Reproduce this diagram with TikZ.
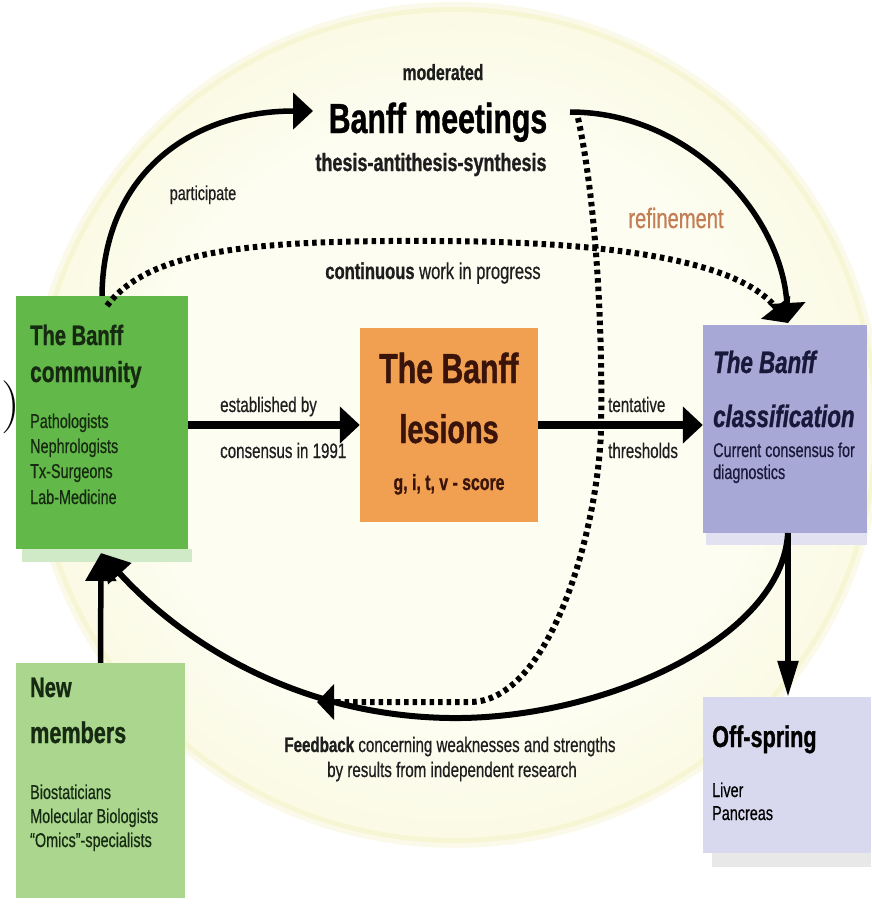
\documentclass[tikz,border=0pt]{standalone}
\usepackage{fontspec}
\setmainfont{Liberation Sans}[FakeStretch=0.72,
  UprightFeatures={FakeBold=0.5},
  BoldFeatures={FakeBold=0.9},
  BoldItalicFeatures={FakeBold=0.9}]
\usetikzlibrary{arrows.meta}

% palette
\definecolor{bgCenter}{RGB}{253,253,242}
\definecolor{bgEdge}{RGB}{244,242,194}
\definecolor{commFill}{RGB}{98,184,72}
\definecolor{newFill}{RGB}{170,214,142}
\definecolor{lesFill}{RGB}{241,160,82}
\definecolor{clasFill}{RGB}{168,168,214}
\definecolor{offsFill}{RGB}{216,216,238}
\definecolor{commText}{RGB}{22,42,18}
\definecolor{lesText}{RGB}{58,20,10}
\definecolor{clasText}{RGB}{24,24,58}
\definecolor{labelText}{RGB}{30,30,30}
\definecolor{refineC}{RGB}{196,126,86}

\newcommand{\fsz}[1]{\fontsize{#1}{#1}\selectfont}

\pgfdeclareradialshading{bgshade}{\pgfpoint{0bp}{0bp}}{%
  color(0bp)=(bgCenter); color(18bp)=(bgCenter);
  color(44bp)=(bgEdge); color(50bp)=(bgEdge)}

\tikzset{
  box/.style={rectangle, inner sep=0pt, draw=none},
  txt/.style={inner sep=0pt, anchor=base west},
  ctxt/.style={inner sep=0pt, anchor=base},
  curve/.style={line width=5.5pt},
  fbcurve/.style={line width=6pt},
  thickarrow/.style={line width=8pt},
  dotted line/.style={line width=6pt, dash pattern=on 4.5pt off 4pt},
  headA/.style={-{Triangle[length=20pt,width=36pt]}},
  headB/.style={-{Triangle[length=28pt,width=30pt]}},
  headC/.style={-{Triangle[length=17pt,width=35pt]}},
  headD/.style={-{Triangle[length=36pt,width=20pt]}},
}

\begin{document}
\begin{tikzpicture}[x=1pt, y=-1pt]
\useasboundingbox (0,0) rectangle (871,905);

% soft pale-yellow backdrop
\fill[bgEdge!35] (455,425) ellipse [x radius=428, y radius=423];
\fill[bgEdge!70] (455,425) ellipse [x radius=423, y radius=418];
\shade[shading=bgshade] (455,425) ellipse [x radius=418, y radius=413];

% faint shadows under boxes
\fill[commFill!30] (22,549) rectangle (192,562);
\fill[clasFill!35] (706,533) rectangle (867,545);
\fill[gray!18] (712,853) rectangle (871,867);

% boxes
\node[box, fill=commFill, minimum width=172pt, minimum height=253pt] (comm) at (102,422.5) {};
\node[box, fill=newFill, minimum width=169pt, minimum height=235pt] (newm) at (100.5,780.5) {};
\node[box, fill=lesFill, minimum width=178pt, minimum height=194pt] (lesion) at (449,425) {};
\node[box, fill=clasFill, minimum width=164pt, minimum height=208pt] (clas) at (785,429) {};
\node[box, fill=offsFill, minimum width=168pt, minimum height=156pt] (offs) at (787,775) {};

% stray parenthesis at the left edge
\node[txt, font=\fontfamily{lmr}\selectfont\fsz{53}] (paren) at (1,420) {)};

% community box text
\begin{scope}[text=commText]
\node[txt, font=\bfseries\fsz{28}] (commA) at (30,345) {The Banff};
\node[txt, font=\bfseries\fsz{29}] (commB) at (30,382) {community};
\node[txt, font=\fsz{20}] (commC) at (30,428) {Pathologists};
\node[txt, font=\fsz{20}] (commD) at (30,453) {Nephrologists};
\node[txt, font=\fsz{20}] (commE) at (30,478) {Tx-Surgeons};
\node[txt, font=\fsz{20}] (commF) at (30,504) {Lab-Medicine};
\end{scope}

% new members box text
\begin{scope}[text=commText]
\node[txt, font=\bfseries\fsz{28}] (newA) at (30,697) {New};
\node[txt, font=\bfseries\fsz{30}] (newB) at (30,743) {members};
\node[txt, font=\fsz{20}] (newC) at (30,799) {Biostaticians};
\node[txt, font=\fsz{20}] (newD) at (30,823) {Molecular Biologists};
\node[txt, font=\fsz{20}] (newE) at (30,847) {“Omics”-specialists};
\end{scope}

% lesions box text
\begin{scope}[text=lesText]
\node[ctxt, font=\bfseries\fsz{42}] (lesA) at (449,383) {The Banff};
\node[ctxt, font=\bfseries\fsz{40}] (lesB) at (449,443) {lesions};
\node[ctxt, font=\bfseries\fsz{22}] (lesC) at (449,490) {g, i, t, v - score};
\end{scope}

% classification box text
\begin{scope}[text=clasText]
\node[txt, font=\bfseries\itshape\fsz{31}] (clasA) at (713,373) {The Banff};
\node[txt, font=\bfseries\itshape\fsz{31}] (clasB) at (713,427) {classification};
\node[txt, font=\fsz{20}] (clasC) at (713,457) {Current consensus for};
\node[txt, font=\fsz{20}] (clasD) at (713,479) {diagnostics};
\end{scope}

% off-spring box text
\node[txt, font=\bfseries\fsz{30}, text=black] (offA) at (712,747) {Off-spring};
\node[txt, font=\fsz{20}, text=black] (offB) at (712,797) {Liver};
\node[txt, font=\fsz{20}, text=black] (offC) at (712,820) {Pancreas};

% free labels
\begin{scope}[text=labelText]
\node[ctxt, font=\bfseries\fsz{22}] (moder) at (443,80) {moderated};
\node[ctxt, font=\bfseries\fsz{42}, text=black] (meet) at (438,133) {Banff meetings};
\node[ctxt, font=\bfseries\fsz{25}] (thesis) at (431,171) {thesis-antithesis-synthesis};
\node[ctxt, font=\fsz{23}] (contin) at (433,279) {\textbf{continuous} work in progress};
\node[ctxt, font=\fsz{20}] (partic) at (203,200) {participate};
\node[txt, font=\fsz{21}] (estA) at (220,412) {established by};
\node[txt, font=\fsz{21}] (estB) at (220,458) {consensus in 1991};
\node[txt, font=\fsz{21}] (tentA) at (608,412) {tentative};
\node[txt, font=\fsz{21}] (tentB) at (608,458) {thresholds};
\node[ctxt, font=\fsz{21}] (feedA) at (450,752) {\textbf{Feedback} concerning weaknesses and strengths};
\node[ctxt, font=\fsz{21}] (feedB) at (452,777) {by results from independent research};
\end{scope}
\node[ctxt, font=\fsz{28}, text=refineC] (refine) at (676,228) {refinement};

% connector end points
\coordinate (pin) at (313,111);
\coordinate (mout) at (570,112);
\coordinate (dout) at (578,118);
\coordinate (ctop) at (788,323);
\coordinate (cbot) at (788,533);
\coordinate (ftip) at (101,553);
\coordinate (dtip) at (317,702);
\coordinate (cstart) at ([xshift=5pt,yshift=-10pt]comm.north);

% connectors
\draw[curve, headA] (comm.north) .. controls (103,175) and (190,111) .. (pin);
\draw[curve, headA] (mout) .. controls (690,112) and (782,215) .. (ctop);
\draw[fbcurve, headB] (cbot) .. controls (782,640) and (600,720) .. (450,718)
      .. controls (300,716) and (185,645) .. (ftip);
\draw[curve, headB] (newm.north) -- (ftip);
\draw[thickarrow, headA] (comm.east |- lesion.west) -- (lesion.west);
\draw[thickarrow, headA] (lesion.east) -- (lesion.east -| clas.west);
\draw[curve, headD] (cbot) -- (cbot |- offs.north);
\draw[dotted line, headA] (cstart) .. controls (150,248) and (260,240) .. (440,241)
      .. controls (620,242) and (740,262) .. (ctop);
\draw[dotted line, headC] (dout) .. controls (596,200) and (603,330) .. (601,430)
      .. controls (598,530) and (550,702) .. (470,702) -- (dtip);
\end{tikzpicture}
\end{document}
